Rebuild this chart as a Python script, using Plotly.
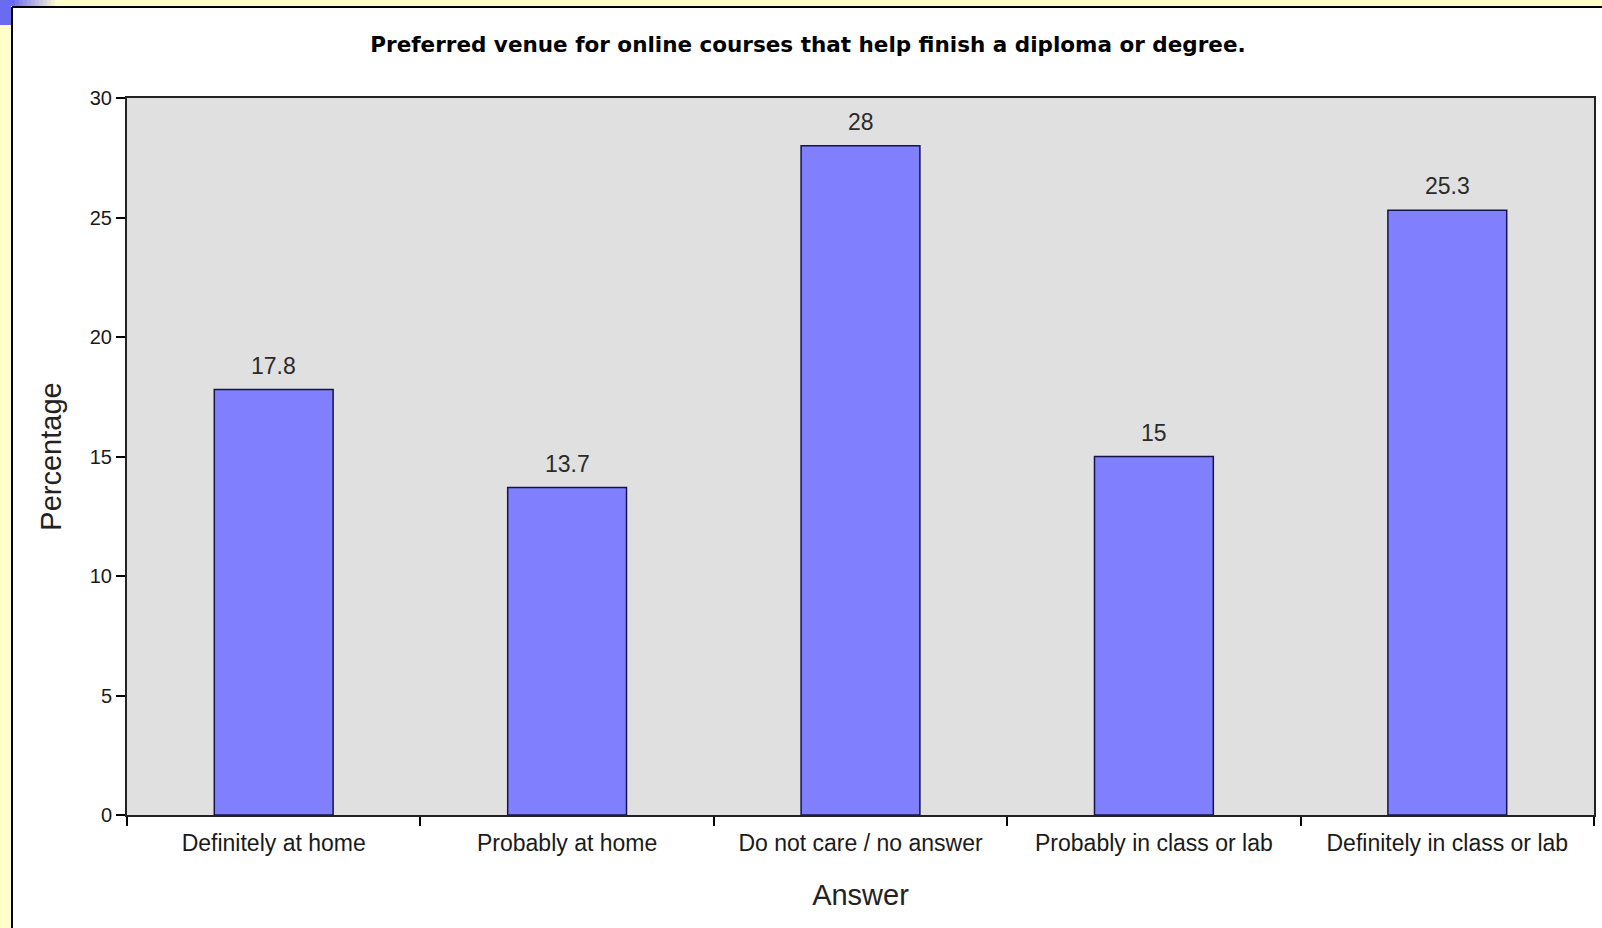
import plotly.graph_objects as go

# Survey answers and the share of respondents (%) choosing each
answers = [
    "Definitely at home",
    "Probably at home",
    "Do not care / no answer",
    "Probably in class or lab",
    "Definitely in class or lab",
]
percentages = [17.8, 13.7, 28, 15, 25.3]
y_ticks = [0, 5, 10, 15, 20, 25, 30]

W, H = 1602, 928
L, R, T, B = 127, 8, 98, 113
PW, PH = W - L - R, H - T - B


def px_x(px):
    return (px - L) / PW


def px_y(py):
    return (H - B - py) / PH


BAR_COLOR = "#8080FF"
EDGE_COLOR = "#14144A"
PLOT_BG = "#E0E0E0"
YELLOW = "#FFFFCC"
FONT = "Liberation Sans, Arial, sans-serif"

fig = go.Figure(
    go.Bar(
        x=answers,
        y=percentages,
        marker=dict(color=BAR_COLOR, line=dict(color=EDGE_COLOR, width=1.5)),
        width=0.405,
        hoverinfo="x+y",
    )
)

# value labels above each bar
for a, v in zip(answers, percentages):
    fig.add_annotation(
        x=a, y=v, text=f"{v:g}", showarrow=False,
        yanchor="bottom", yshift=9,
        font=dict(family=FONT, size=23, color="#2A2A2A"),
    )

# window frame around the chart panel
shapes = [
    dict(type="rect", xref="paper", yref="paper",
         x0=px_x(0), x1=px_x(11), y0=px_y(H + 5), y1=px_y(0),
         fillcolor=YELLOW, line=dict(width=0), layer="below"),
    dict(type="rect", xref="paper", yref="paper",
         x0=px_x(0), x1=px_x(W + 5), y0=px_y(6), y1=px_y(0),
         fillcolor=YELLOW, line=dict(width=0), layer="below"),
    dict(type="line", xref="paper", yref="paper",
         x0=px_x(12), x1=px_x(12), y0=px_y(7), y1=px_y(H + 5),
         line=dict(color="#000000", width=2)),
    dict(type="line", xref="paper", yref="paper",
         x0=px_x(12), x1=px_x(W + 5), y0=px_y(7), y1=px_y(7),
         line=dict(color="#000000", width=2)),
    dict(type="rect", xref="paper", yref="paper",
         x0=px_x(0), x1=px_x(11), y0=px_y(25), y1=px_y(0),
         fillcolor="#6B6BF2", line=dict(width=0), layer="below"),
]
# blue-to-yellow fade along the top edge
steps = 12
for i in range(steps):
    t = i / (steps - 1)
    r = int(0x6B + (0xFF - 0x6B) * t)
    g = int(0x6B + (0xFF - 0x6B) * t)
    b = int(0xF2 + (0xCC - 0xF2) * t)
    shapes.append(dict(
        type="rect", xref="paper", yref="paper",
        x0=px_x(11 + i * 4), x1=px_x(15 + i * 4), y0=px_y(6), y1=px_y(0),
        fillcolor=f"rgb({r},{g},{b})", line=dict(width=0), layer="below"))

fig.update_layout(
    width=W, height=H,
    margin=dict(l=L, r=R, t=T, b=B, autoexpand=False),
    paper_bgcolor="#FFFFFF",
    plot_bgcolor=PLOT_BG,
    showlegend=False,
    bargap=0.595,
    shapes=shapes,
    title=dict(
        text="<b>Preferred venue for online courses that help finish a diploma or degree.</b>",
        x=808 / W, xref="container", xanchor="center",
        y=1 - 44 / H, yref="container", yanchor="middle",
        font=dict(family="DejaVu Sans, Verdana, sans-serif", size=21.5, color="#000000"),
    ),
    xaxis=dict(
        type="category",
        showline=True, linecolor="#222222", linewidth=2, mirror=True,
        ticks="outside", tickson="boundaries", ticklen=9, tickwidth=1.5, tickcolor="#000000",
        showgrid=False, ticklabelstandoff=6,
        tickfont=dict(family=FONT, size=23, color="#1A1A1A"),
        title=dict(text="Answer", standoff=30,
                   font=dict(family=FONT, size=29, color="#222222")),
    ),
    yaxis=dict(
        range=[0, 30], tickvals=y_ticks,
        showline=True, linecolor="#222222", linewidth=2, mirror=True,
        ticks="outside", ticklen=9, tickwidth=1.5, tickcolor="#000000",
        showgrid=False, zeroline=False,
        tickfont=dict(family=FONT, size=20, color="#1A1A1A"),
        title=dict(text="Percentage", standoff=20,
                   font=dict(family=FONT, size=29, color="#222222")),
    ),
)

fig.write_html("out.html")
